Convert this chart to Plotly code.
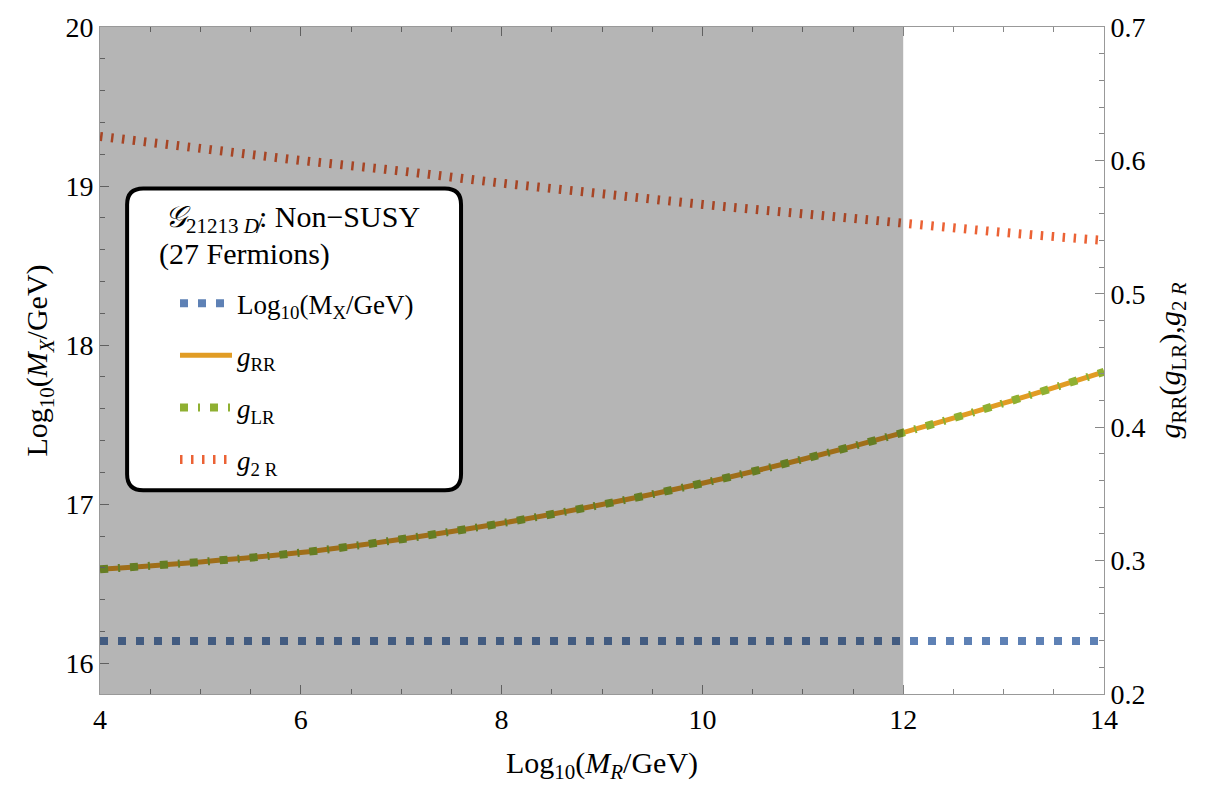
import plotly.graph_objects as go

# log10(M_R / GeV) grid
log_mr = [4, 5, 6, 7, 8, 9, 10, 11, 12, 13, 14]

# unification scale log10(M_X / GeV) (left axis)
log_mx = [16.14, 16.14, 16.14, 16.14, 16.14, 16.14, 16.14, 16.14, 16.14, 16.14, 16.14]

# couplings at M_R (right axis)
g_rr = [0.2935, 0.299, 0.306, 0.316, 0.328, 0.342, 0.358, 0.376, 0.396, 0.418, 0.4415]
g_lr = [0.2935, 0.299, 0.306, 0.316, 0.328, 0.342, 0.358, 0.376, 0.396, 0.418, 0.4415]
g_2r = [0.618, 0.609, 0.600, 0.592, 0.583, 0.575, 0.567, 0.560, 0.553, 0.546, 0.540]

# excluded band in log10(M_R / GeV)
band = [4, 12]

# legend heading lines
heading = ["<i>𝒢</i><sub>21213 <i>D̸</i></sub>: Non−SUSY", "(27 Fermions)"]

BLUE = "#5E81B5"
ORANGE = "#E19C24"
GREEN = "#8FB032"
RED = "#EB6235"
SERIF = "Liberation Serif"

fig = go.Figure()

fig.add_trace(go.Scatter(
    x=log_mr, y=log_mx, mode="lines", yaxis="y",
    name="Log<sub>10</sub>(M<sub>X</sub>/GeV)", legendgroup="a",
    line=dict(color=BLUE, width=8, dash="8px,10px"),
))
fig.add_trace(go.Scatter(
    x=log_mr, y=g_rr, mode="lines", yaxis="y2", line_shape="spline",
    name="<i>g</i><sub>RR</sub>", legendgroup="b",
    line=dict(color=ORANGE, width=5),
))
fig.add_trace(go.Scatter(
    x=log_mr, y=g_lr, mode="lines", yaxis="y2", line_shape="spline",
    name="<i>g</i><sub>LR</sub>", legendgroup="c",
    line=dict(color=GREEN, width=8, dash="8px,10px,2px,10px"),
))
fig.add_trace(go.Scatter(
    x=log_mr, y=g_2r, mode="lines", yaxis="y2", line_shape="spline",
    name="<i>g</i><sub>2 R</sub>", legendgroup="d",
    line=dict(color=RED, width=9, dash="2.5px,8.5px"),
))

# shaded band over the curves
fig.add_shape(type="rect", xref="x", yref="paper", x0=band[0], x1=band[1], y0=0, y1=1,
              layer="above", line_width=0, fillcolor="rgba(0,0,0,0.29)")

# rounded legend frame
x0, x1, y0, y1 = 0.027, 0.3596, 0.3056, 0.758
rx, ry = 0.016, 0.024
path = (f"M {x0+rx},{y1} L {x1-rx},{y1} Q {x1},{y1} {x1},{y1-ry} "
        f"L {x1},{y0+ry} Q {x1},{y0} {x1-rx},{y0} L {x0+rx},{y0} "
        f"Q {x0},{y0} {x0},{y0+ry} L {x0},{y1-ry} Q {x0},{y1} {x0+rx},{y1} Z")
fig.add_shape(type="path", xref="paper", yref="paper", path=path, layer="above",
              fillcolor="white", line=dict(color="black", width=4))

# legend heading
for text, xp, yp in [(heading[0], 0.063, 0.712), (heading[1], 0.057, 0.659)]:
    fig.add_annotation(text=text, xref="paper", yref="paper", x=xp, y=yp,
                       xanchor="left", yanchor="middle", showarrow=False,
                       font=dict(family=SERIF, size=30, color="black"))

tick_font = dict(family=SERIF, size=28, color="black")
title_font = dict(family=SERIF, size=30, color="black")

fig.update_layout(
    width=1209, height=793,
    margin=dict(l=100, r=105, t=20, b=99),
    paper_bgcolor="white", plot_bgcolor="white",
    font=dict(family=SERIF, color="black"),
    xaxis=dict(
        range=[4, 14], dtick=2, tick0=4, ticks="inside", ticklen=9, tickcolor="#888",
        minor=dict(dtick=0.5, ticks="inside", ticklen=5, tickcolor="#888"),
        showgrid=False, zeroline=False, showline=True, linecolor="#999", linewidth=1,
        mirror="ticks", tickfont=tick_font,
        title=dict(text="Log<sub>10</sub>(<i>M<sub>R</sub></i>/GeV)", font=title_font, standoff=18),
    ),
    yaxis=dict(
        range=[15.807, 20], dtick=1, tick0=16, ticks="inside", ticklen=9, tickcolor="#888",
        minor=dict(dtick=0.2, ticks="inside", ticklen=5, tickcolor="#888"),
        showgrid=False, zeroline=False, showline=True, linecolor="#999", linewidth=1,
        tickfont=tick_font,
        title=dict(text="Log<sub>10</sub>(<i>M<sub>X</sub></i>/GeV)", font=title_font, standoff=8),
    ),
    yaxis2=dict(
        range=[0.2, 0.7], dtick=0.1, tick0=0.2, ticks="inside", ticklen=9, tickcolor="#888",
        minor=dict(dtick=0.02, ticks="inside", ticklen=5, tickcolor="#888"),
        overlaying="y", side="right", tickformat=".1f",
        showgrid=False, zeroline=False, showline=True, linecolor="#999", linewidth=1,
        tickfont=tick_font,
        title=dict(text="<i>g</i><sub>RR</sub>(<i>g</i><sub>LR</sub>),<i>g</i><sub>2 <i>R</i></sub>",
                   font=title_font, standoff=14),
    ),
    legend=dict(
        x=0.0747, y=0.622, xanchor="left", yanchor="top",
        bgcolor="rgba(0,0,0,0)", borderwidth=0, itemwidth=52,
        font=dict(family=SERIF, size=27, color="black"),
        traceorder="grouped", tracegroupgap=14,
    ),
    showlegend=True,
)

fig.write_html("out.html")
